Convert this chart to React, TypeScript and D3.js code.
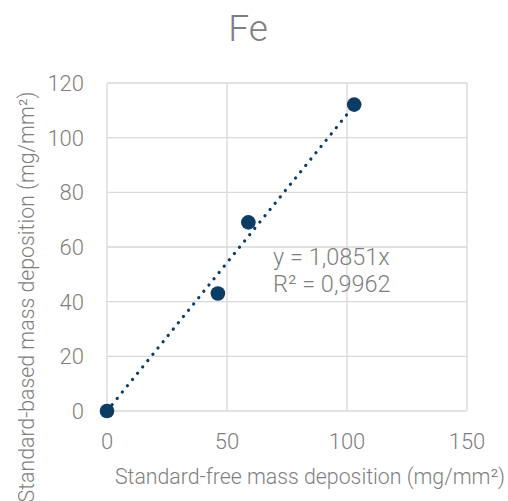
import React from "react";
import * as d3 from "d3";

const xValues = [0, 46.2, 58.9, 103.0];
const yValues = [0, 43.0, 69.0, 112.1];
const xTicks = [0, 50, 100, 150];
const yTicks = [0, 20, 40, 60, 80, 100, 120];
const slope = 1.0851;
const title = "Fe";
const xTitle = "Standard-free mass deposition (mg/mm²)";
const yTitle = "Standard-based mass deposition (mg/mm²)";
const eqLines = ["y = 1,0851x", "R² = 0,9962"];

const W = 508, H = 501;
const L = 107, R = 467, T = 83, B = 411;

export default function App() {
  const x = d3.scaleLinear().domain([0, 150]).range([L, R]);
  const y = d3.scaleLinear().domain([0, 120]).range([B, T]);
  const font = "Roboto, 'Noto Sans', sans-serif";
  const gray = "#7f7f7f";
  const grid = "#d9d9d9";
  const navy = "#0b3c63";
  const xMax = d3.max(xValues) as number;
  const line = d3.line<number>().x((d) => x(d)).y((d) => y(slope * d));
  return (
    <svg width={W} height={H} style={{ position: "absolute", left: 0, top: 0 }} fontFamily={font}>
      <rect width={W} height={H} fill="#fff" />
      {xTicks.map((t) => (
        <line key={"gx" + t} x1={x(t)} x2={x(t)} y1={T} y2={B} stroke={grid} strokeWidth={1.3} />
      ))}
      {yTicks.map((t) => (
        <line key={"gy" + t} x1={L} x2={R} y1={y(t)} y2={y(t)} stroke={grid} strokeWidth={1.3} />
      ))}
      {yTicks.map((t) => (
        <text key={"ty" + t} x={84} y={y(t)} dy="0.36em" textAnchor="end" fontSize={22} fontWeight={300} fill={gray}>{t}</text>
      ))}
      {xTicks.map((t) => (
        <text key={"tx" + t} x={x(t)} y={449} textAnchor="middle" fontSize={22} fontWeight={300} fill={gray}>{t}</text>
      ))}
      <path d={line([0, xMax]) || ""} fill="none" stroke={navy} strokeWidth={3.2} strokeLinecap="round" strokeDasharray="0.1 8" />
      {xValues.map((v, i) => (
        <circle key={"p" + i} cx={x(v)} cy={y(yValues[i])} r={7.3} fill={navy} />
      ))}
      {eqLines.map((s, i) => (
        <text key={"eq" + i} x={273} y={265 + i * 27} fontSize={23.5} fontWeight={300} fill={gray}>{s}</text>
      ))}
      <text x={248} y={41} textAnchor="middle" fontSize={37} fontWeight={300} fill={gray}>{title}</text>
      <text x={310} y={484} textAnchor="middle" fontSize={21.3} fontWeight={300} fill={gray}>{xTitle}</text>
      <text transform={`translate(34, 297) rotate(-90)`} textAnchor="middle" fontSize={21.3} fontWeight={300} fill={gray}>{yTitle}</text>
    </svg>
  );
}
